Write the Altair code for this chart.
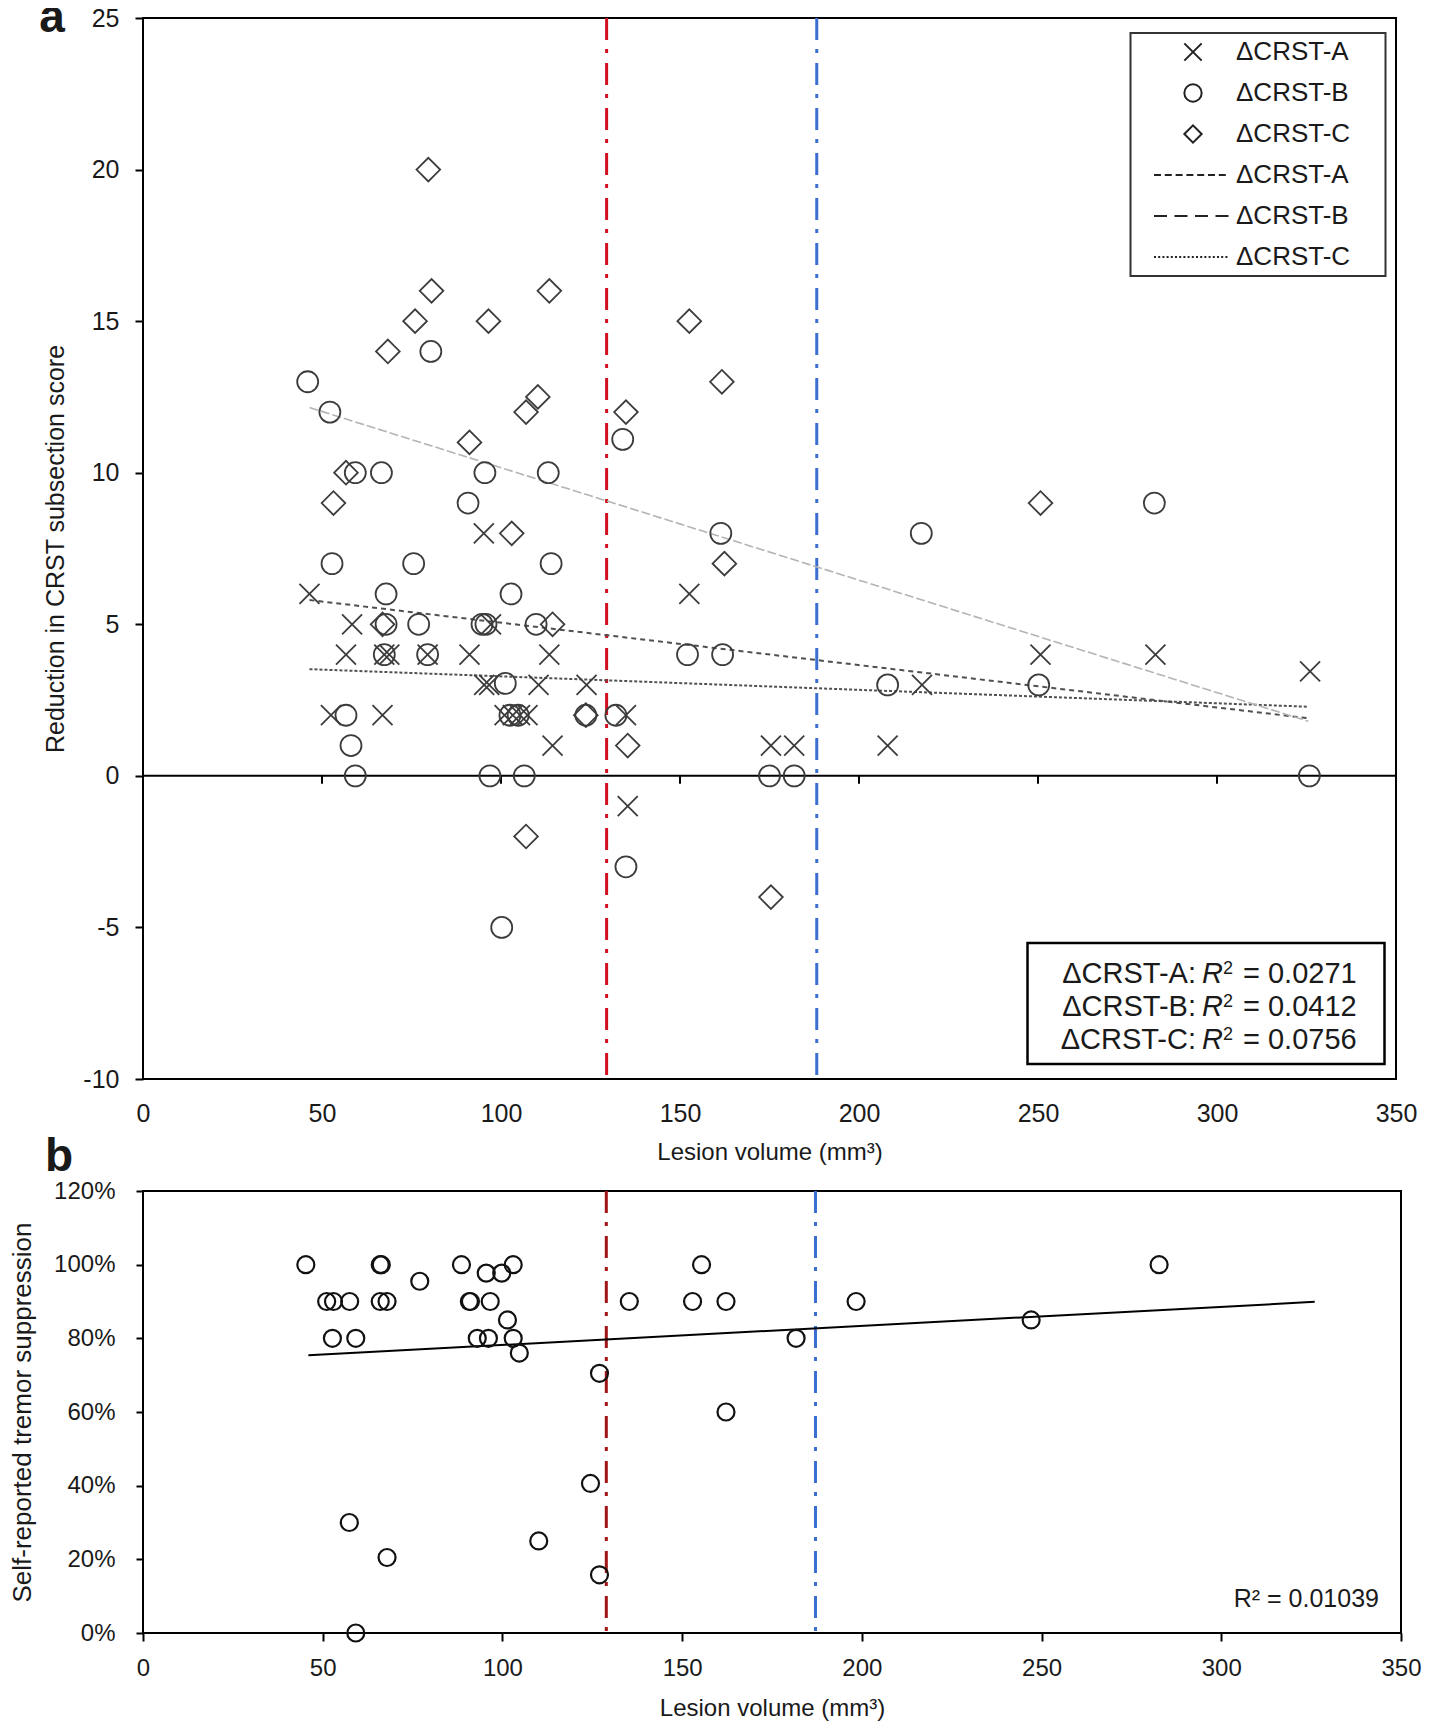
import altair as alt
import pandas as pd

FONT = "Liberation Sans"
TXT = "#1a1a1a"

# ---------------- Panel a data ----------------
crst_a_x = [46.5, 58.4, 56.7, 67.4, 68.8, 79.5, 91.2, 113.5, 95.2, 95.3, 96.7, 110.5, 123.9,
            52.5, 66.9, 101.0, 103.3, 105.3, 107.4, 134.9, 114.4, 135.4, 152.6, 97.2,
            175.4, 181.9, 208.0, 217.6, 250.7, 282.8, 326.0]
crst_a_y = [6, 5, 4, 4, 4, 4, 4, 4, 8, 3, 3, 3, 3,
            2, 2, 2, 2, 2, 2, 2, 1, -1, 6, 5,
            1, 1, 1, 3, 4, 4, 3.45]

crst_b_x = [46.0, 52.2, 52.8, 56.7, 58.1, 59.3, 59.3, 66.6, 67.9, 67.9, 67.4, 75.6, 77.0,
            80.4, 79.5, 90.8, 95.5, 94.7, 95.8, 101.2, 102.8, 96.9, 100.2, 102.5, 104.8,
            106.5, 109.8, 113.2, 114.0, 123.7, 134.0, 132.1, 134.9, 152.1, 161.4, 161.9,
            175.0, 181.9, 208.0, 217.4, 250.2, 282.5, 325.8]
crst_b_y = [13, 12, 7, 2, 1, 0, 10, 10, 6, 5, 4, 7, 5,
            14, 4, 9, 10, 5, 5, 3.05, 6, 0, -5, 2, 2,
            0, 5, 10, 7, 2, 11.1, 2, -3, 4, 8, 4,
            0, 0, 3, 8, 3, 9, 0]

crst_c_x = [79.7, 80.6, 113.5, 76.0, 96.5, 152.6, 68.4, 161.7, 110.3, 107.0, 134.9, 91.2,
            56.7, 53.2, 103.0, 162.4, 250.7, 66.9, 114.4, 123.7, 135.4, 107.0, 175.4]
crst_c_y = [20, 16, 16, 15, 15, 15, 14, 13, 12.5, 12, 12, 11,
            10, 9, 8, 7, 9, 5, 5, 2, 1, -2, -4]

# trend lines (end points)
trend_keys = ["A", "B", "C"]
trend_x0 = [46.5, 46.5, 46.5]
trend_x1 = [325.5, 325.5, 325.5]
trend_y0 = [3.52, 5.80, 12.15]
trend_y1 = [2.28, 1.90, 1.80]

r2_labels = ["ΔCRST-A:", "ΔCRST-B:", "ΔCRST-C:"]
r2_values = ["= 0.0271", "= 0.0412", "= 0.0756"]

a_xticks = [0, 50, 100, 150, 200, 250, 300, 350]
a_yticks = [-10, -5, 0, 5, 10, 15, 20, 25]
zero_ticks = [50, 100, 150, 200, 250, 300]
a_vlines = [129.5, 188.2]

# ---------------- Panel b data ----------------
supp_x = [45.3, 51.1, 53.0, 57.5, 52.7, 59.2, 66.0, 66.3, 66.0, 67.9, 77.0, 88.6, 90.8,
          91.1, 96.6, 95.5, 99.8, 103.0, 93.0, 96.1, 101.4, 103.0, 104.7, 127.0, 135.3,
          124.5, 127.0, 110.1, 57.4, 67.9, 59.2, 155.4, 152.9, 162.2, 162.2, 181.7,
          198.4, 247.1, 282.7]
supp_y = [100, 90, 90, 90, 80, 80, 100, 100, 90, 90, 95.5, 100, 90,
          90, 90, 97.7, 97.7, 100, 80, 80, 85, 80, 76, 70.5, 90,
          40.6, 15.8, 25, 30, 20.5, 0, 100, 90, 90, 60, 80,
          90, 85, 100]
b_trend_x = [46.0, 326.0]
b_trend_y = [75.4, 89.9]
b_vlines = [128.9, 187.1]
b_yticks = [0, 20, 40, 60, 80, 100, 120]
b_r2 = "R² = 0.01039"

# ---------------- helpers ----------------
one = pd.DataFrame({"k": [0]})

def txt(text, x, y, size, align="left", baseline="alphabetic", **kw):
    return alt.Chart(one).mark_text(
        text=text, font=FONT, fontSize=size, color=TXT, align=align, baseline=baseline, **kw
    ).encode(x=alt.value(x), y=alt.value(y))

SYM = 300
U = (SYM ** 0.5) / 2.0

def dash_path(x0px, x1px, dash, gap):
    segs, x = [], x0px
    while x < x1px - 1e-6:
        e = min(x + dash, x1px)
        segs.append(f"M{x / U:.3f},0L{e / U:.3f},0")
        x = e + gap
    return "".join(segs)

cross_path = "M-1,-1L1,1M-1,1L1,-1"
legend_keys = ["pA", "pB", "pC", "lA", "lB", "lC"]
legend_shapes = [cross_path, "circle", "diamond",
                 dash_path(-39, 36, 7, 3.8), dash_path(-39, 36, 13, 7.5), dash_path(-39, 36, 2, 2.2)]
shape_scale = alt.Scale(domain=legend_keys, range=legend_shapes)
legend = alt.Legend(
    title=None, orient="none", legendX=981, legendY=9, symbolSize=SYM, symbolStrokeWidth=2,
    symbolStrokeColor="#222222", symbolFillColor="transparent", symbolOffset=44,
    labelFont=FONT, labelFontSize=26, labelColor=TXT, rowPadding=15, labelOffset=30,
    padding=12, labelExpr="'ΔCRST-' + slice(datum.label, 1)",
)

minus_fix = "datum.value < 0 ? '-' + abs(datum.value) : '' + datum.value"

# ---------------- Panel a ----------------
pts = pd.DataFrame({
    "series": ["pA"] * len(crst_a_x) + ["pB"] * len(crst_b_x) + ["pC"] * len(crst_c_x),
    "x": crst_a_x + crst_b_x + crst_c_x,
    "y": crst_a_y + crst_b_y + crst_c_y,
})
xa = alt.X("x:Q", scale=alt.Scale(domain=[0, 350], nice=False, zero=False),
           axis=alt.Axis(values=a_xticks, ticks=False, tickSize=0, domain=False, grid=False,
                         labelPadding=22, labelFontSize=25, labelFlush=False, labelOverlap=False,
                         title="Lesion volume (mm³)", titleFontSize=24, titlePadding=14,
                         titleFontWeight="normal"))
ya = alt.Y("y:Q", scale=alt.Scale(domain=[-10, 25], nice=False, zero=False),
           axis=alt.Axis(values=a_yticks, tickSize=8, tickWidth=2, tickColor="black",
                         labelPadding=16, domain=False, grid=False, labelFontSize=25,
                         labelFlush=False, labelOverlap=False, labelExpr=minus_fix,
                         title="Reduction in CRST subsection score", titleFontSize=25,
                         titlePadding=14, titleFontWeight="normal"))

def pts_layer(key, size):
    return alt.Chart(pts).transform_filter(alt.datum.series == key).mark_point(
        filled=False, size=size, strokeWidth=1.8, color="#3c3c3c", opacity=1, shape="circle"
    ).encode(x=xa, y=ya, shape=alt.Shape("series:N", scale=shape_scale, legend=legend))

trend = pd.DataFrame({
    "key": trend_keys + trend_keys,
    "x": trend_x0 + trend_x1,
    "y": trend_y0 + trend_y1,
})
trend_style = {
    "A": dict(color="#505050", strokeWidth=2, strokeDash=[3, 2]),
    "B": dict(color="#505050", strokeWidth=2, strokeDash=[5, 4]),
    "C": dict(color="#b4b4b4", strokeWidth=1.6, strokeDash=[9, 3]),
}
trend_layers = [
    alt.Chart(trend).transform_filter(alt.datum.key == k).mark_line(**trend_style[k]).encode(x="x:Q", y="y:Q")
    for k in trend_keys
]

zero_line = alt.Chart(pd.DataFrame({"y": [0]})).mark_rule(color="black", strokeWidth=2).encode(y="y:Q")
zero_tick = alt.Chart(pd.DataFrame({"x": zero_ticks})).mark_rule(
    color="black", strokeWidth=2, y2Offset=8).encode(x="x:Q", y=alt.datum(0), y2=alt.datum(0))

vline_a_red = alt.Chart(pd.DataFrame({"x": [a_vlines[0]]})).mark_rule(
    color="#d0101e", strokeWidth=3, strokeDash=[22, 9, 4, 10]).encode(x="x:Q")
vline_a_blue = alt.Chart(pd.DataFrame({"x": [a_vlines[1]]})).mark_rule(
    color="#3a6fd0", strokeWidth=3, strokeDash=[22, 9, 4, 10]).encode(x="x:Q")

legend_frame = alt.Chart(one).mark_rect(fill="white", stroke="#333333", strokeWidth=2).encode(
    x=alt.value(987.5), x2=alt.value(1242.5), y=alt.value(15), y2=alt.value(258))

r2_box = alt.Chart(one).mark_rect(fill="white", stroke="black", strokeWidth=2.5).encode(
    x=alt.value(884.5), x2=alt.value(1241.5), y=alt.value(925), y2=alt.value(1046))
r2_texts = []
for i, (lab, val) in enumerate(zip(r2_labels, r2_values)):
    yb = 965.3 + 33 * i
    r2_texts += [
        txt(lab, 1053, yb, 29, align="right"),
        txt("R", 1059, yb, 29, fontStyle="italic"),
        txt("2", 1080, yb - 9, 18),
        txt(val, 1100, yb, 29),
    ]

label_a = txt("a", -91, 14, 46, align="center", fontWeight="bold")

panel_a = alt.layer(
    vline_a_red, vline_a_blue, zero_line, zero_tick,
    *trend_layers,
    pts_layer("pA", 400), pts_layer("pB", 441), pts_layer("pC", 560),
    legend_frame, r2_box, *r2_texts, label_a,
).properties(width=1253, height=1061)

# ---------------- Panel b ----------------
supp = pd.DataFrame({"x": supp_x, "y": supp_y})
xb = alt.X("x:Q", scale=alt.Scale(domain=[0, 350], nice=False, zero=False),
           axis=alt.Axis(values=a_xticks, tickSize=8, tickWidth=2, tickColor="black", domain=False,
                         grid=False, labelPadding=15, labelFontSize=24, labelFlush=False,
                         labelOverlap=False, title="Lesion volume (mm³)", titleFontSize=24,
                         titlePadding=16, titleFontWeight="normal"))
yb_ = alt.Y("y:Q", scale=alt.Scale(domain=[0, 120], nice=False, zero=False),
            axis=alt.Axis(values=b_yticks, tickSize=7, tickWidth=2, tickColor="black",
                          labelPadding=21, domain=False, grid=False, labelFontSize=24,
                          labelFlush=False, labelOverlap=False, labelExpr="datum.value + '%'",
                          title="Self-reported tremor suppression", titleFontSize=26,
                          titlePadding=18, titleFontWeight="normal"))
pts_b = alt.Chart(supp).mark_point(filled=False, size=289, strokeWidth=2.2, color="#111111",
                                   opacity=1, shape="circle").encode(x=xb, y=yb_)
trend_b = alt.Chart(pd.DataFrame({"x": b_trend_x, "y": b_trend_y})).mark_line(
    color="black", strokeWidth=2).encode(x="x:Q", y="y:Q")
vline_b_red = alt.Chart(pd.DataFrame({"x": [b_vlines[0]]})).mark_rule(
    color="#a01515", strokeWidth=3, strokeDash=[22, 9, 4, 10]).encode(x="x:Q")
vline_b_blue = alt.Chart(pd.DataFrame({"x": [b_vlines[1]]})).mark_rule(
    color="#3a6fd0", strokeWidth=3, strokeDash=[22, 9, 4, 10]).encode(x="x:Q")
r2_b = txt(b_r2, 1236, 416, 25, align="right")
label_b = txt("b", -84, -20, 46, align="center", fontWeight="bold")

panel_b = alt.layer(vline_b_red, vline_b_blue, trend_b, pts_b, r2_b, label_b).properties(
    width=1258, height=442)

chart = alt.vconcat(panel_a, panel_b, spacing=112, bounds="flush").resolve_scale(
    x="independent", y="independent", shape="independent"
).resolve_legend(shape="independent").properties(
    padding={"top": -14, "left": 0, "right": 0, "bottom": 0}
).configure_view(stroke="black", strokeWidth=2).configure_axis(
    labelFont=FONT, titleFont=FONT, labelColor=TXT, titleColor=TXT
)

chart.save("out.html", embed_options={"renderer": "svg", "actions": False})
